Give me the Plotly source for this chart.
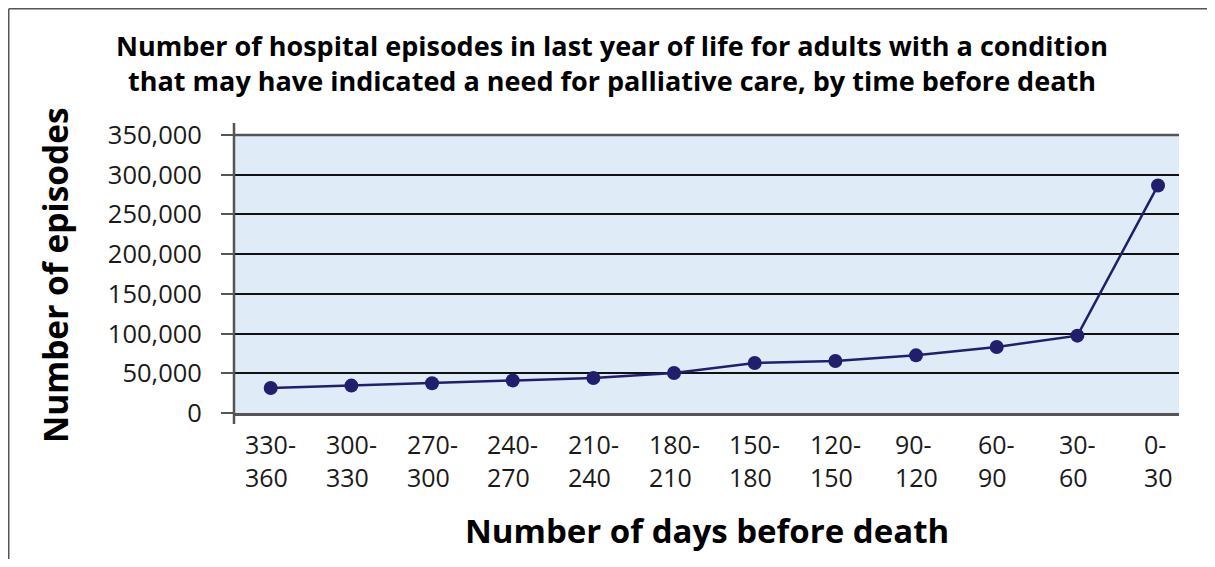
import plotly.graph_objects as go

categories = ["330-360", "300-330", "270-300", "240-270", "210-240", "180-210",
              "150-180", "120-150", "90-120", "60-90", "30-60", "0-30"]
episodes = [31500, 34500, 37500, 41000, 44000, 50400, 63000, 65500, 72600, 83000, 97400, 286500]
y_ticks = [0, 50000, 100000, 150000, 200000, 250000, 300000, 350000]
y_ticklabels = ["0", "50,000", "100,000", "150,000", "200,000", "250,000", "300,000", "350,000"]

title_text = ("Number of hospital episodes in last year of life for adults with a condition<br>"
              "that may have indicated a need for palliative care, by time before death")
x_title = "Number of days before death"
y_title = "Number of episodes"

FONT = "Open Sans"
NAVY = "#221e6e"
AXIS = "#555555"

fig = go.Figure()
fig.add_trace(go.Scatter(
    x=categories, y=episodes, mode="lines+markers",
    line=dict(color=NAVY, width=2.5),
    marker=dict(color=NAVY, size=14),
    showlegend=False, hoverinfo="x+y",
))

# page has an 8px body margin; keep the page from overflowing the window
OFF = 8
W, H = 1215 - OFF, 567 - 2 * OFF
ml, mt = 234 - OFF, 135 - OFF
pw, ph = 945, 278
mr = W - ml - pw
mb = H - mt - ph

fig.update_layout(
    width=W, height=H,
    margin=dict(l=ml, r=mr, t=mt, b=mb),
    paper_bgcolor="white",
    plot_bgcolor="#DFECF7",
    font=dict(family=FONT, color="#1a1a1a"),
)

fig.update_xaxes(
    type="category", categoryorder="array", categoryarray=categories,
    range=[-0.455, 11.26], showticklabels=False, showgrid=False,
    showline=True, linecolor=AXIS, linewidth=2.5, ticks="", zeroline=False,
)
fig.update_yaxes(
    range=[0, 350000], tickvals=y_ticks, ticktext=y_ticklabels,
    tickfont=dict(size=25.5, family=FONT, color="#1a1a1a"),
    ticks="outside", ticklen=12, tickwidth=2, tickcolor=AXIS,
    ticklabelstandoff=14,
    showgrid=True, gridcolor="#111111", gridwidth=1.5,
    showline=False, zeroline=False,
)

annotations = []
for c in categories:
    annotations.append(dict(
        x=c, y=0, xref="x", yref="y", yshift=-12,
        text=c.replace("-", "-<br>"), showarrow=False,
        xanchor="center", yanchor="top", align="left",
        font=dict(size=25, family=FONT, color="#1a1a1a"),
    ))

def px_x(p):
    return (p - OFF - ml) / pw

def px_y(p):
    return (mt + ph - (p - OFF)) / ph

annotations += [
    dict(x=px_x(612), y=px_y(63), xref="paper", yref="paper", text=title_text,
         showarrow=False, xanchor="center", yanchor="middle", align="center",
         font=dict(size=27, family=FONT, color="#000000", weight="bold")),
    dict(x=px_x(707), y=px_y(530), xref="paper", yref="paper", text=x_title,
         showarrow=False, xanchor="center", yanchor="middle",
         font=dict(size=33, family=FONT, color="#000000", weight="bold")),
    dict(x=px_x(55), y=px_y(275), xref="paper", yref="paper", text=y_title,
         showarrow=False, xanchor="center", yanchor="middle", textangle=-90,
         font=dict(size=33.5, family=FONT, color="#000000", weight="bold")),
]
fig.update_layout(annotations=annotations)

shapes = [
    dict(type="line", xref="paper", yref="paper", x0=0, x1=0,
         y0=px_y(424), y1=px_y(123), line=dict(color=AXIS, width=2.5), layer="above"),
    dict(type="line", xref="paper", yref="paper", x0=0, x1=1,
         y0=1, y1=1, line=dict(color=AXIS, width=2.5), layer="above"),
    dict(type="line", xref="paper", yref="paper", x0=px_x(8.75), x1=px_x(1215),
         y0=px_y(8.75), y1=px_y(8.75), line=dict(color="#555555", width=1.5)),
    dict(type="line", xref="paper", yref="paper", x0=px_x(8.75), x1=px_x(8.75),
         y0=px_y(8.75), y1=px_y(OFF + H), line=dict(color="#555555", width=1.5)),
]
fig.update_layout(shapes=shapes)

fig.write_html("out.html")
